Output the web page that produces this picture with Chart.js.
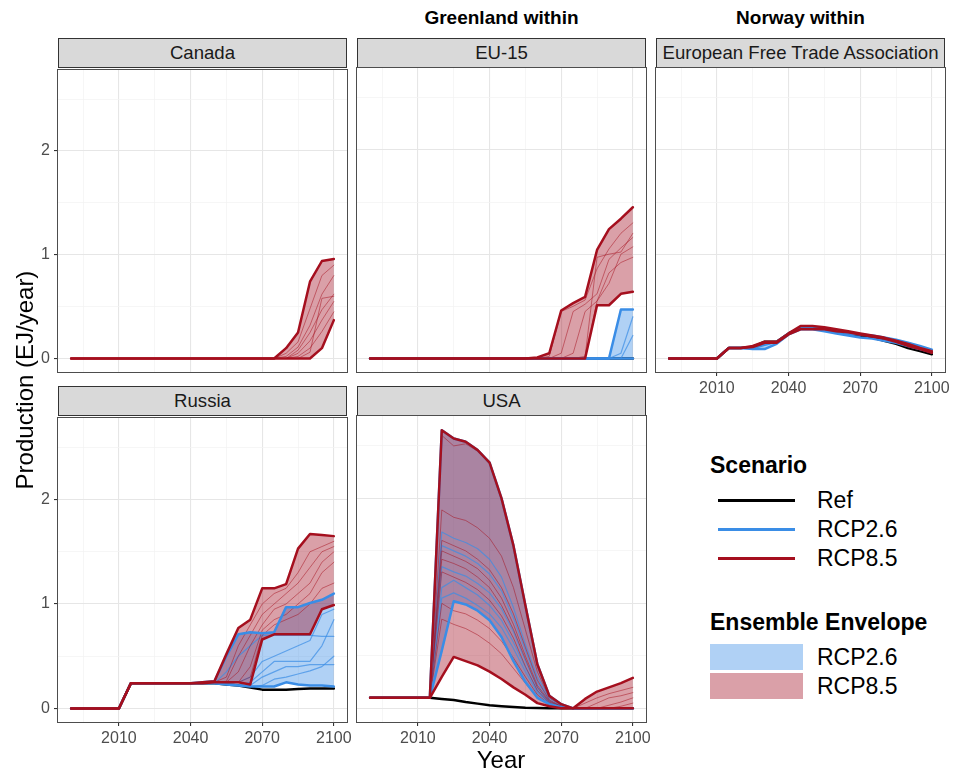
<!DOCTYPE html>
<html>
<head>
<meta charset="utf-8">
<script src="https://cdn.jsdelivr.net/npm/chart.js@4.4.0/dist/chart.umd.min.js"></script>
<style>
  body { margin: 0; background: #fff; font-family: "Liberation Sans", Arial, sans-serif; }
  #page { position: relative; width: 958px; height: 775px; overflow: hidden; }
  canvas { position: absolute; }
  .strip { position: absolute; width: 287px; height: 28px; background: #d9d9d9; border: 1px solid #333;
           text-align: center; font-size: 18.6px; line-height: 28px; color: #1a1a1a; white-space: nowrap; }
  .coltitle { position: absolute; width: 289px; text-align: center; font-weight: bold; font-size: 19px; color: #000; }
  .axtitle { position: absolute; font-size: 24px; color: #000; text-align: center; white-space: nowrap; }
  .lg { position: absolute; font-size: 23px; color: #000; white-space: nowrap; }
  .lgtitle { font-weight: bold; }
  .lgline { position: absolute; height: 3px; width: 77px; }
  .lgbox { position: absolute; width: 93px; height: 26px; }
</style>
</head>
<body>
<div id="page"></div>
<script>
// model years (GCAM time steps)
const years = [1990, 2005, 2010, 2015, 2020, 2025, 2030, 2035, 2040, 2045, 2050, 2055, 2060, 2065, 2070, 2075, 2080, 2085, 2090, 2095, 2100];
const xGridYears = [1995, 2010, 2025, 2040, 2055, 2070, 2085, 2100];
const xLabelYears = [2010, 2040, 2070, 2100];
const yGridVals = [0, 0.5, 1, 1.5, 2, 2.5];
const yLabelVals = [0, 1, 2];

// Canada (only RCP8.5 runs shown)
const canadaRef     = [];
const canadaRcp26Hi = [];
const canadaRcp26Lo = [];
const canadaRcp85Hi = [0,0,0,0,0,0,0,0,0,0,0,0,0,0,0,0,0.10,0.25,0.74,0.94,0.96];
const canadaRcp85Lo = [0,0,0,0,0,0,0,0,0,0,0,0,0,0,0,0,0,0,0,0.10,0.37];
const canadaRcp26Runs = [];
const canadaRcp85Runs = [
  [0,0,0,0,0,0,0,0,0,0,0,0,0,0,0,0,0.05,0.16,0.48,0.80,0.90],
  [0,0,0,0,0,0,0,0,0,0,0,0,0,0,0,0,0.02,0.11,0.32,0.62,0.80],
  [0,0,0,0,0,0,0,0,0,0,0,0,0,0,0,0,0,0.08,0.25,0.47,0.62],
  [0,0,0,0,0,0,0,0,0,0,0,0,0,0,0,0,0,0.05,0.17,0.37,0.55],
  [0,0,0,0,0,0,0,0,0,0,0,0,0,0,0,0,0,0.02,0.10,0.26,0.45],
  [0,0,0,0,0,0,0,0,0,0,0,0,0,0,0,0,0,0,0.06,0.58,0.60]
];

// EU-15
const euRef     = [0,0,0,0,0,0,0,0,0,0,0,0,0,0,0,0,0,0,0,0,0];
const euRcp26Hi = [0,0,0,0,0,0,0,0,0,0,0,0,0,0,0,0,0,0,0,0.47,0.47];
const euRcp26Lo = [0,0,0,0,0,0,0,0,0,0,0,0,0,0,0,0,0,0,0,0,0];
const euRcp85Hi = [0,0,0,0,0,0,0,0,0,0,0,0,0.01,0.05,0.46,0.53,0.59,1.04,1.24,1.34,1.45];
const euRcp85Lo = [0,0,0,0,0,0,0,0,0,0,0,0,0,0,0,0,0,0.51,0.51,0.62,0.64];
const euRcp26Runs = [
  [0,0,0,0,0,0,0,0,0,0,0,0,0,0,0,0,0,0,0,0.05,0.40],
  [0,0,0,0,0,0,0,0,0,0,0,0,0,0,0,0,0,0,0,0,0.22]
];
const euRcp85Runs = [
  [0,0,0,0,0,0,0,0,0,0,0,0,0,0.02,0.45,0.50,0.56,0.86,1.05,1.20,1.30],
  [0,0,0,0,0,0,0,0,0,0,0,0,0,0,0.05,0.45,0.52,0.62,0.95,1.06,1.16],
  [0,0,0,0,0,0,0,0,0,0,0,0,0,0,0,0.05,0.45,0.55,0.72,1.00,1.07],
  [0,0,0,0,0,0,0,0,0,0,0,0,0,0,0,0,0.02,0.97,1.00,1.02,1.20],
  [0,0,0,0,0,0,0,0,0,0,0,0,0,0,0,0,0,0.55,0.82,0.92,0.97]
];

// European Free Trade Association
const eftaRef     = [0,0,0,0.10,0.10,0.11,0.16,0.16,0.24,0.29,0.29,0.28,0.26,0.24,0.22,0.20,0.17,0.14,0.10,0.07,0.04];
const eftaRcp26Hi = [0,0,0,0.10,0.10,0.10,0.13,0.16,0.24,0.29,0.29,0.28,0.26,0.24,0.23,0.22,0.20,0.18,0.15,0.12,0.085];
const eftaRcp26Lo = [0,0,0,0.10,0.10,0.09,0.09,0.14,0.23,0.28,0.28,0.26,0.24,0.22,0.20,0.19,0.17,0.15,0.12,0.09,0.06];
const eftaRcp85Hi = [0,0,0,0.10,0.10,0.12,0.16,0.16,0.24,0.31,0.31,0.30,0.28,0.26,0.24,0.22,0.20,0.17,0.14,0.10,0.07];
const eftaRcp85Lo = [0,0,0,0.10,0.10,0.11,0.15,0.15,0.23,0.28,0.28,0.28,0.26,0.25,0.23,0.21,0.19,0.16,0.12,0.09,0.055];
const eftaRcp26Runs = [];
const eftaRcp85Runs = [];

// Russia
const russiaRef     = [0,0,0,0.24,0.24,0.24,0.24,0.24,0.24,0.24,0.24,0.23,0.22,0.20,0.18,0.18,0.18,0.185,0.19,0.19,0.19];
const russiaRcp26Hi = [0,0,0,0.24,0.24,0.24,0.24,0.24,0.24,0.25,0.26,0.50,0.71,0.73,0.72,0.73,0.97,0.97,1.01,1.04,1.10];
const russiaRcp26Lo = [0,0,0,0.24,0.24,0.24,0.24,0.24,0.24,0.24,0.24,0.23,0.22,0.21,0.21,0.21,0.25,0.23,0.22,0.22,0.21];
const russiaRcp85Hi = [0,0,0,0.24,0.24,0.24,0.24,0.24,0.24,0.25,0.26,0.52,0.77,0.85,1.15,1.15,1.19,1.53,1.67,1.66,1.65];
const russiaRcp85Lo = [0,0,0,0.24,0.24,0.24,0.24,0.24,0.24,0.24,0.25,0.25,0.25,0.23,0.66,0.71,0.71,0.71,0.71,0.95,0.99];
const russiaRcp26Runs = [
  [0,0,0,0.24,0.24,0.24,0.24,0.24,0.24,0.24,0.24,0.35,0.50,0.60,0.70,0.70,0.70,0.70,0.70,0.69,0.69],
  [0,0,0,0.24,0.24,0.24,0.24,0.24,0.24,0.24,0.24,0.23,0.25,0.30,0.45,0.50,0.55,0.60,0.65,0.90,0.95],
  [0,0,0,0.24,0.24,0.24,0.24,0.24,0.24,0.24,0.24,0.23,0.22,0.25,0.35,0.45,0.45,0.45,0.45,0.60,0.85],
  [0,0,0,0.24,0.24,0.24,0.24,0.24,0.24,0.24,0.24,0.23,0.22,0.22,0.30,0.35,0.40,0.40,0.42,0.42,0.42],
  [0,0,0,0.24,0.24,0.24,0.24,0.24,0.24,0.24,0.24,0.23,0.22,0.21,0.22,0.28,0.30,0.33,0.36,0.40,0.50]
];
const russiaRcp85Runs = [
  [0,0,0,0.24,0.24,0.24,0.24,0.24,0.24,0.24,0.25,0.30,0.60,0.80,1.00,1.10,1.15,1.30,1.50,1.55,1.60],
  [0,0,0,0.24,0.24,0.24,0.24,0.24,0.24,0.24,0.25,0.26,0.50,0.70,0.90,1.00,1.10,1.20,1.35,1.50,1.55],
  [0,0,0,0.24,0.24,0.24,0.24,0.24,0.24,0.24,0.25,0.25,0.35,0.60,0.80,0.95,1.00,1.10,1.20,1.40,1.50],
  [0,0,0,0.24,0.24,0.24,0.24,0.24,0.24,0.24,0.25,0.25,0.25,0.40,0.75,0.85,0.90,1.00,1.10,1.30,1.40],
  [0,0,0,0.24,0.24,0.24,0.24,0.24,0.24,0.24,0.25,0.25,0.25,0.30,0.70,0.80,0.85,0.90,1.00,1.15,1.20]
];

// USA (RCP2.6 upper envelope runs under the RCP8.5 one)
const usaRef     = [0.10,0.10,0.10,0.10,0.09,0.08,0.06,0.045,0.03,0.02,0.012,0.006,0.003,0,0,0,0,0,0,0,0];
const usaRcp26Hi = [0.10,0.10,0.10,0.10,2.65,2.57,2.54,2.46,2.34,2.00,1.55,0.98,0.42,0.12,0.04,0,0,0,0,0,0];
const usaRcp26Lo = [0.10,0.10,0.10,0.10,0.55,1.02,0.99,0.93,0.84,0.68,0.45,0.25,0.10,0.04,0.01,0,0,0,0,0,0];
const usaRcp85Hi = [0.10,0.10,0.10,0.10,2.65,2.57,2.54,2.46,2.34,2.00,1.55,0.98,0.42,0.12,0.04,0,0.09,0.16,0.20,0.24,0.29];
const usaRcp85Lo = [0.10,0.10,0.10,0.10,0.30,0.49,0.45,0.41,0.35,0.28,0.20,0.13,0.05,0.02,0,0,0,0,0,0,0];
const usaRcp26Runs = [
  [0.10,0.10,0.10,0.10,1.68,1.62,1.58,1.52,1.42,1.25,0.96,0.61,0.30,0.10,0.03,0,0,0,0,0,0],
  [0.10,0.10,0.10,0.10,1.55,1.50,1.45,1.38,1.28,1.12,0.86,0.55,0.25,0.08,0.02,0,0,0,0,0,0],
  [0.10,0.10,0.10,0.10,1.35,1.30,1.26,1.19,1.10,0.95,0.73,0.45,0.20,0.06,0.02,0,0,0,0,0,0],
  [0.10,0.10,0.10,0.10,1.15,1.22,1.15,1.08,0.98,0.84,0.63,0.39,0.17,0.05,0.01,0,0,0,0,0,0],
  [0.10,0.10,0.10,0.10,1.05,1.10,1.05,0.98,0.90,0.77,0.57,0.35,0.15,0.05,0.01,0,0,0,0,0,0]
];
const usaRcp85Runs = [
  [0.10,0.10,0.10,0.10,2.60,2.50,2.52,2.45,2.33,2.00,1.55,0.98,0.42,0.12,0.04,0,0.05,0.10,0.14,0.17,0.20],
  [0.10,0.10,0.10,0.10,1.89,1.82,1.79,1.72,1.62,1.45,1.15,0.75,0.35,0.10,0.03,0,0,0.05,0.10,0.12,0.15],
  [0.10,0.10,0.10,0.10,1.60,1.55,1.50,1.42,1.32,1.15,0.90,0.58,0.27,0.08,0.02,0,0,0,0.03,0.06,0.10],
  [0.10,0.10,0.10,0.10,1.50,1.45,1.40,1.33,1.22,1.05,0.80,0.50,0.22,0.07,0.02,0,0,0,0,0.02,0.05],
  [0.10,0.10,0.10,0.10,1.42,1.38,1.33,1.25,1.15,0.98,0.75,0.47,0.20,0.06,0.02,0,0,0,0,0,0],
  [0.10,0.10,0.10,0.10,1.30,1.25,1.20,1.13,1.03,0.88,0.67,0.40,0.17,0.05,0.01,0,0,0,0,0,0],
  [0.10,0.10,0.10,0.10,1.00,0.93,0.90,0.84,0.76,0.64,0.48,0.30,0.13,0.04,0.01,0,0,0,0,0,0],
  [0.10,0.10,0.10,0.10,0.85,0.80,0.76,0.70,0.62,0.52,0.38,0.24,0.10,0.03,0.01,0,0,0,0,0,0]
];

// colours
const refColor = "#000000";
const blueLine = "#3a8de6";
const redLine = "#a50f1e";
const blueRun = "rgba(58, 141, 230, 0.7)";
const redRun = "rgba(165, 15, 30, 0.5)";
const blueFill = "rgba(58, 141, 230, 0.4)";
const redFill = "rgba(163, 18, 38, 0.4)";

// layout of the facet grid
const colLeft = [58, 357, 656];
const stripTop = [38, 386];
const plotTop = [68, 416];
const plotH = [304, 306];
const panelW = 289;

const panels = [
  { title: "Canada", col: 0, row: 0, yText: true, xText: false,
    ref: canadaRef, hi26: canadaRcp26Hi, lo26: canadaRcp26Lo, hi85: canadaRcp85Hi, lo85: canadaRcp85Lo,
    runs26: canadaRcp26Runs, runs85: canadaRcp85Runs },
  { title: "EU-15", col: 1, row: 0, yText: false, xText: false,
    ref: euRef, hi26: euRcp26Hi, lo26: euRcp26Lo, hi85: euRcp85Hi, lo85: euRcp85Lo,
    runs26: euRcp26Runs, runs85: euRcp85Runs },
  { title: "European Free Trade Association", col: 2, row: 0, yText: false, xText: true,
    ref: eftaRef, hi26: eftaRcp26Hi, lo26: eftaRcp26Lo, hi85: eftaRcp85Hi, lo85: eftaRcp85Lo,
    runs26: eftaRcp26Runs, runs85: eftaRcp85Runs },
  { title: "Russia", col: 0, row: 1, yText: true, xText: true,
    ref: russiaRef, hi26: russiaRcp26Hi, lo26: russiaRcp26Lo, hi85: russiaRcp85Hi, lo85: russiaRcp85Lo,
    runs26: russiaRcp26Runs, runs85: russiaRcp85Runs },
  { title: "USA", col: 1, row: 1, yText: false, xText: true,
    ref: usaRef, hi26: usaRcp26Hi, lo26: usaRcp26Lo, hi85: usaRcp85Hi, lo85: usaRcp85Lo,
    runs26: usaRcp26Runs, runs85: usaRcp85Runs }
];

Chart.defaults.font.family = '"Liberation Sans", Arial, sans-serif';

const page = document.getElementById("page");

function pts(vals) {
  return years.map((yr, i) => ({ x: yr, y: vals[i] }));
}

// grey panel outline like theme_bw
const panelBorder = {
  id: "panelBorder",
  afterDraw(chart) {
    const { ctx, chartArea: a } = chart;
    ctx.save();
    ctx.strokeStyle = "#4d4d4d";
    ctx.lineWidth = 1;
    ctx.strokeRect(Math.round(a.left) - 0.5, Math.round(a.top) - 0.5, Math.round(a.width) + 1, Math.round(a.height) + 1);
    ctx.restore();
  }
};

function buildDatasets(p) {
  const ds = [];
  const clear = "rgba(0,0,0,0)";
  const has26 = p.hi26.length > 0;
  // envelopes (drawn first)
  if (has26) {
    ds.push({ data: pts(p.hi26), borderColor: clear, borderWidth: 0, backgroundColor: blueFill, fill: "+1", order: 9 });
    ds.push({ data: pts(p.lo26), borderColor: clear, borderWidth: 0, fill: false, order: 9 });
  }
  ds.push({ data: pts(p.hi85), borderColor: clear, borderWidth: 0, backgroundColor: redFill, fill: "+1", order: 8 });
  ds.push({ data: pts(p.lo85), borderColor: clear, borderWidth: 0, fill: false, order: 8 });
  // reference scenario
  if (p.ref.length) ds.push({ data: pts(p.ref), borderColor: refColor, borderWidth: 2.5, fill: false, order: 7 });
  // ensemble members
  p.runs26.forEach(r => ds.push({ data: pts(r), borderColor: blueRun, borderWidth: 1.2, fill: false, order: 6 }));
  p.runs85.forEach(r => ds.push({ data: pts(r), borderColor: redRun, borderWidth: 1, fill: false, order: 5 }));
  // envelope outlines
  if (has26) {
    [p.hi26, p.lo26].forEach(r => ds.push({ data: pts(r), borderColor: blueLine, borderWidth: 2.5, fill: false, order: 4 }));
  }
  [p.hi85, p.lo85].forEach(r => ds.push({ data: pts(r), borderColor: redLine, borderWidth: 2.5, fill: false, order: 3 }));
  return ds;
}

panels.forEach(p => {
  const left = colLeft[p.col];
  const top = plotTop[p.row];
  const h = plotH[p.row];

  const strip = document.createElement("div");
  strip.className = "strip";
  strip.style.left = left + "px";
  strip.style.top = stripTop[p.row] + "px";
  strip.textContent = p.title;
  page.appendChild(strip);

  const cv = document.createElement("canvas");
  cv.width = 50 + panelW + 20;
  cv.height = 12 + h + 30;
  cv.style.left = (left - 50) + "px";
  cv.style.top = (top - 12) + "px";
  page.appendChild(cv);

  new Chart(cv.getContext("2d"), {
    type: "line",
    data: { datasets: buildDatasets(p) },
    options: {
      responsive: false,
      animation: false,
      devicePixelRatio: 1,
      events: [],
      layout: { padding: { left: 0, right: 20, top: 12, bottom: 0 } },
      elements: {
        point: { radius: 0 },
        line: { tension: 0, borderJoinStyle: "round", borderCapStyle: "round" }
      },
      plugins: { legend: { display: false }, tooltip: { enabled: false } },
      scales: {
        x: {
          type: "linear", min: 1984.5, max: 2105.5,
          afterBuildTicks: s => { s.ticks = xGridYears.map(v => ({ value: v })); },
          afterFit: s => { s.height = 30; },
          border: { display: false },
          grid: {
            color: c => (c.tick && xLabelYears.includes(c.tick.value)) ? "#e6e6e6" : "#f2f2f2",
            lineWidth: c => (c.tick && xLabelYears.includes(c.tick.value)) ? 1.1 : 0.7,
            tickColor: c => (p.xText && c.tick && xLabelYears.includes(c.tick.value)) ? "#333" : "rgba(0,0,0,0)",
            tickLength: 4
          },
          ticks: {
            display: p.xText, autoSkip: false, maxRotation: 0, padding: 3,
            color: "#4d4d4d", font: { size: 16 },
            callback: v => xLabelYears.includes(v) ? String(v) : ""
          }
        },
        y: {
          type: "linear", min: -0.13, max: 2.785,
          afterBuildTicks: s => { s.ticks = yGridVals.map(v => ({ value: v })); },
          afterFit: s => { s.width = 50; },
          border: { display: false },
          grid: {
            color: c => (c.tick && yLabelVals.includes(c.tick.value)) ? "#e6e6e6" : "#f2f2f2",
            lineWidth: c => (c.tick && yLabelVals.includes(c.tick.value)) ? 1.1 : 0.7,
            tickColor: c => (p.yText && c.tick && yLabelVals.includes(c.tick.value)) ? "#333" : "rgba(0,0,0,0)",
            tickLength: 4
          },
          ticks: {
            display: p.yText, autoSkip: false, padding: 4,
            color: "#4d4d4d", font: { size: 16 },
            callback: v => yLabelVals.includes(v) ? String(v) : ""
          }
        }
      }
    },
    plugins: [panelBorder]
  });
});

// column headers
[["Greenland within", 1], ["Norway within", 2]].forEach(([txt, col]) => {
  const d = document.createElement("div");
  d.className = "coltitle";
  d.style.left = colLeft[col] + "px";
  d.style.top = "7px";
  d.textContent = txt;
  page.appendChild(d);
});

// axis titles
const yTitle = document.createElement("div");
yTitle.className = "axtitle";
yTitle.style.cssText = "left:-125px;top:365px;width:300px;height:30px;line-height:30px;transform:rotate(-90deg);";
yTitle.textContent = "Production (EJ/year)";
page.appendChild(yTitle);

const xTitle = document.createElement("div");
xTitle.className = "axtitle";
xTitle.style.cssText = "left:351px;top:745px;width:300px;height:30px;line-height:30px;";
xTitle.textContent = "Year";
page.appendChild(xTitle);

// legend
function addText(txt, x, yc, bold) {
  const d = document.createElement("div");
  d.className = "lg" + (bold ? " lgtitle" : "");
  d.style.left = x + "px";
  d.style.top = (yc - 14) + "px";
  d.style.lineHeight = "28px";
  d.textContent = txt;
  page.appendChild(d);
}
addText("Scenario", 710, 465, true);
[["Ref", refColor, 500], ["RCP2.6", blueLine, 529], ["RCP8.5", redLine, 558]].forEach(([t, c, y]) => {
  const l = document.createElement("div");
  l.className = "lgline";
  l.style.left = "718px";
  l.style.top = (y - 1.5) + "px";
  l.style.background = c;
  page.appendChild(l);
  addText(t, 817, y, false);
});
addText("Ensemble Envelope", 710, 622, true);
[["RCP2.6", blueFill, 644], ["RCP8.5", redFill, 673]].forEach(([t, c, y]) => {
  const b = document.createElement("div");
  b.className = "lgbox";
  b.style.left = "710px";
  b.style.top = y + "px";
  b.style.background = c;
  page.appendChild(b);
  addText(t, 817, y + 13, false);
});
</script>
</body>
</html>
